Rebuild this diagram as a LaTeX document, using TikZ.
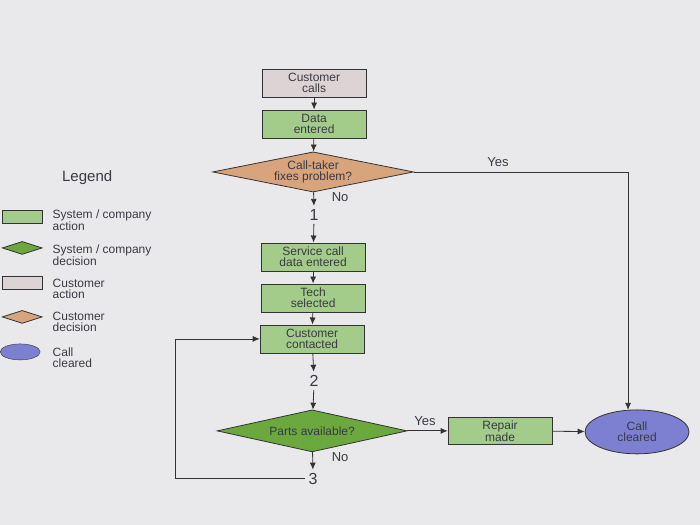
\documentclass[tikz,border=0pt]{standalone}
\usepackage{fontspec}
\setmainfont{Liberation Sans}
\usetikzlibrary{shapes.geometric,arrows.meta}
\definecolor{bg}{HTML}{E9E9EB}
\definecolor{act}{HTML}{A3CC8A}
\definecolor{dec}{HTML}{6BA83E}
\definecolor{cus}{HTML}{DCD4D4}
\definecolor{cdec}{HTML}{D8A47C}
\definecolor{clr}{HTML}{7D80D0}
\definecolor{txt}{HTML}{3A3A44}
\begin{document}
\begin{tikzpicture}[x=1pt,y=-1pt,
  every node/.style={font=\fontsize{12}{11}\selectfont,text=txt,align=center},
  box/.style={draw=black!80,thick,minimum width=104pt,minimum height=28pt,inner sep=0pt},
  dia/.style={diamond,draw=black!80,thick,aspect=5,inner sep=1pt},
  arr/.style={thick,black!80,-{Latex[length=7pt,width=6pt]}},
  lbl/.style={font=\fontsize{13}{13}\selectfont},
  num/.style={font=\fontsize{16}{16}\selectfont}]
\fill[bg] (0,0) rectangle (700,525);
\node[box,fill=cus] (calls) at (314,83) {Customer\\calls};
\node[box,fill=act] (data) at (314,124) {Data\\entered};
\node[dia,fill=cdec,minimum width=176pt,minimum height=32pt] (fix) at (313,172) {Call-taker\\fixes problem?};
\node[num] (n1) at (314,215) {1};
\node[box,fill=act] (svc) at (313,257) {Service call\\data entered};
\node[box,fill=act] (tech) at (313,298) {Tech\\selected};
\node[box,fill=act] (cont) at (312,339) {Customer\\contacted};
\node[num] (n2) at (314,381) {2};
\node[dia,fill=dec,minimum width=190pt,minimum height=42pt] (parts) at (312,431) {Parts available?};
\node[num] (n3) at (313,479) {3};
\node[box,fill=act,minimum height=27pt] (rep) at (500,431) {Repair\\made};
\node[ellipse,draw=black!80,thick,fill=clr,minimum width=104pt,minimum height=44pt,inner sep=0pt] (clr) at (637,432) {Call\\cleared};
\coordinate (c1) at (628,172);
\coordinate (l1) at (175,479);
\coordinate (l2) at (175,339);
\draw[arr] (calls) -- (data);
\draw[arr] (data) -- (fix);
\draw[arr] (fix) -- (n1);
\draw[arr] (n1) -- (svc);
\draw[arr] (svc) -- (tech);
\draw[arr] (tech) -- (cont);
\draw[arr] (cont) -- (n2);
\draw[arr] (n2) -- (parts);
\draw[arr] (parts) -- (n3);
\draw[arr] (parts) -- (rep);
\draw[arr] (rep) -- (clr);
\draw[arr] (fix.east) -- (c1) -- (628,410);
\draw[arr] (n3.west) -- (l1) -- (l2) -- (cont);
\node[lbl] (yes1) at (498,162) {Yes};
\node[lbl] (no1) at (340,197) {No};
\node[lbl] (yes2) at (425,421) {Yes};
\node[lbl] (no2) at (340,457) {No};
% legend
\node[font=\fontsize{15}{15}\selectfont] (leg) at (87,178) {Legend};
\node[draw=black!80,fill=act,minimum width=40pt,minimum height=13pt,inner sep=0pt] (k1) at (22,217) {};
\node[dia,fill=dec,minimum width=40pt,minimum height=13pt,aspect=3] (k2) at (22,248) {};
\node[draw=black!80,fill=cus,minimum width=40pt,minimum height=13pt,inner sep=0pt] (k3) at (22,283) {};
\node[dia,fill=cdec,minimum width=40pt,minimum height=13pt,aspect=3] (k4) at (22,317) {};
\node[ellipse,draw=black!80,fill=clr,minimum width=40pt,minimum height=16pt,inner sep=0pt] (k5) at (20,352) {};
\node[anchor=west,align=left] (t1) at (49,220) {System / company\\action};
\node[anchor=west,align=left] (t2) at (49,255) {System / company\\decision};
\node[anchor=west,align=left] (t3) at (49,289) {Customer\\action};
\node[anchor=west,align=left] (t4) at (49,322) {Customer\\decision};
\node[anchor=west,align=left] (t5) at (49,358) {Call\\cleared};
\end{tikzpicture}
\end{document}
